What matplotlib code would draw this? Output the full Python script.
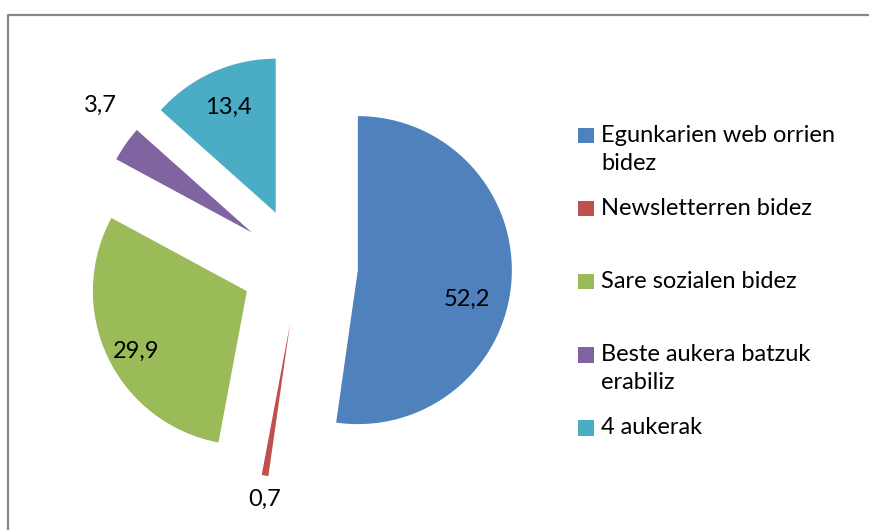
import numpy as np
import matplotlib
matplotlib.use("Agg")
import matplotlib.pyplot as plt
from matplotlib.patches import Rectangle

# ── Data
categories = ["Egunkarien web orrien\nbidez", "Newsletterren bidez", "Sare sozialen bidez",
              "Beste aukera batzuk\nerabiliz", "4 aukerak"]
values = [52.2, 0.7, 29.9, 3.7, 13.4]
value_labels = ["52,2", "0,7", "29,9", "3,7", "13,4"]
colors = ["#4F81BD", "#C0504D", "#9BBB59", "#8064A2", "#4BACC6"]

W, H = 869, 530
plt.rcParams['font.family'] = ['Lato', 'DejaVu Sans']
FS = 17

fig = plt.figure(figsize=(W / 100, H / 100), dpi=100)
ax = fig.add_axes([0, 0, 1, 1])

# pie in pixel units (y measured from bottom)
cx, cy, R, expl = 299.6, H - 266, 154, 58.4
wedges, _ = ax.pie(values, colors=colors, startangle=90, counterclock=False,
                   radius=R, center=(cx, cy), explode=[expl] * len(values),
                   wedgeprops=dict(linewidth=0))

# ── Value labels (inside for big slices, outside for small ones)
lab_dist = [113, 178, 126, 198, 115]
lab_tweak = [-11, 1, 3, -5, 0]
frac = np.array(values) / sum(values)
start = 90 - 360 * np.concatenate([[0], np.cumsum(frac)[:-1]])
mid = start - 360 * frac / 2
for i, m in enumerate(mid):
    t = np.deg2rad(m)
    sx, sy = cx + expl * np.cos(t), cy + expl * np.sin(t)
    a = np.deg2rad(m + lab_tweak[i])
    ax.text(sx + lab_dist[i] * np.cos(a), sy + lab_dist[i] * np.sin(a), value_labels[i],
            ha='center', va='center', fontsize=FS, color='black')

# ── Legend drawn by hand (first line aligned with the marker)
leg_x, leg_y0, leg_step, line_h, box = 578, 135.5, 73.1, 28, 15.5
for i, (lab, c) in enumerate(zip(categories, colors)):
    y = leg_y0 + i * leg_step
    ax.add_patch(Rectangle((leg_x, H - y - box / 2), box, box, color=c, lw=0))
    for j, line in enumerate(lab.split("\n")):
        ax.text(leg_x + 23, H - (y + j * line_h), line, ha='left', va='center',
                fontsize=FS, color='black')

# chart frame (only top and left edges visible)
ax.plot([8, 8, W + 5], [-5, H - 14.5, H - 14.5], color='#868686', lw=1.6,
        solid_capstyle='butt', clip_on=False)

ax.set_xlim(0, W)
ax.set_ylim(0, H)
ax.set_aspect('equal')
ax.axis('off')

fig.savefig("out.png", dpi=100)
